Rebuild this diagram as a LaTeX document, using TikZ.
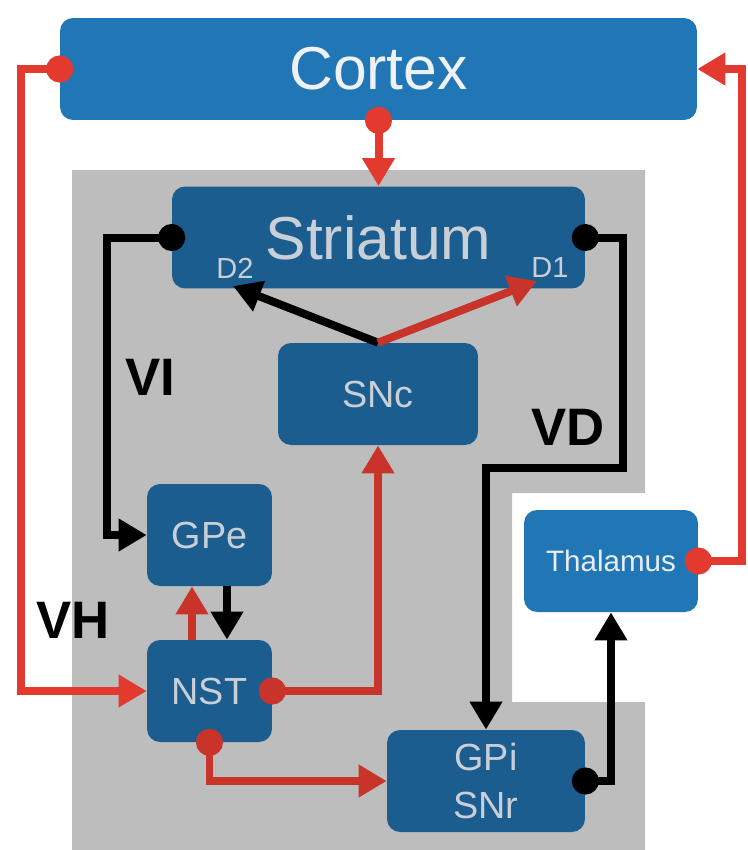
\documentclass[tikz,border=0pt]{standalone}
\usepackage{fontspec}
\setmainfont{Liberation Sans}
\usetikzlibrary{arrows.meta}

\definecolor{ctxblue}{HTML}{2176B5}
\definecolor{nucblue}{HTML}{1B5D8F}
\definecolor{nucgray}{HTML}{BDBDBD}
\definecolor{exred}{HTML}{E23A2E}
\definecolor{inred}{HTML}{C8332A}
\definecolor{nuctext}{HTML}{C9CFD6}
\definecolor{ctxtext}{HTML}{EEF2F5}

\begin{document}
\begin{tikzpicture}[x=0.02cm, y=-0.02cm,
nucleus/.style={fill=nucblue, rounded corners=0.26cm, text=nuctext, minimum height=2.04cm, inner sep=0pt, font=\fontsize{21.5}{27}\selectfont},
outer/.style={nucleus, fill=ctxblue},
big/.style={font=\fontsize{34.5}{34.5}\selectfont},
receptor/.style={text=nuctext, font=\fontsize{16.5}{16.5}\selectfont},
pathlabel/.style={font=\fontsize{30}{30}\selectfont\bfseries},
link/.style={line width=0.16cm, -{Triangle[length=0.56cm,width=0.62cm]}},
dotlink/.style={line width=0.16cm, arrows={Circle[length=0.54cm]-Triangle[length=0.56cm,width=0.62cm]}, shorten <=-0.27cm} ]

\useasboundingbox (0,0) rectangle (748,850);

% basal ganglia area
\fill[nucgray] (72,170) -- (645,170) -- (645,493) -- (512,493) -- (512,702) -- (645,702) -- (645,850) -- (72,850) -- cycle;

\node[outer, big, text=ctxtext, minimum width=12.74cm] (cortex) at (378.5,69) {Cortex};

\node[nucleus, big, minimum width=8.26cm] (striatum) at (378.5,237.5) {Striatum};

\node[receptor] (d2) at (235,268) {D2};

\node[receptor] (d1) at (550,268) {D1};

\node[nucleus, minimum width=4cm] (snc) at (378,394) {SNc};

\node[nucleus, minimum width=2.5cm] (gpe) at (209.5,535) {GPe};

\node[nucleus, minimum width=2.5cm] (nst) at (209.5,691) {NST};

\node[nucleus, minimum width=3.96cm, align=center] (gpi) at (486,781) {GPi\\SNr};

\node[outer, minimum width=3.48cm, text=ctxtext!85!nuctext, font=\fontsize{16.8}{16.8}\selectfont] (thalamus) at (611,561) {Thalamus};

\coordinate (d2tip) at (233,286);
\coordinate (d1tip) at (537,281);
\coordinate (vdbend) at (623,468);

% cortical inputs
\draw[dotlink, exred] (cortex.west) -- ++(-39,0) |- (nst.west);

\draw[dotlink, exred] (cortex.south) -- (striatum.north);

% indirect and direct pathways
\draw[dotlink] (striatum.west) -- ++(-65,0) |- (gpe.west);

\draw[dotlink] (striatum.east) -| (vdbend) -| (gpi.north);

% dopamine
\draw[link] (snc.north) -- (d2tip);

\draw[link, inred] (snc.north) -- (d1tip);

\draw[link, inred] ([xshift=-0.35cm]nst.north) -- ([xshift=-0.35cm]gpe.south);

\draw[link] ([xshift=0.35cm]gpe.south) -- ([xshift=0.35cm]nst.north);

\draw[dotlink, inred] (nst.east) -| (snc.south);

\draw[dotlink, inred] (nst.south) |- (gpi.west);

% output loop
\draw[dotlink] (gpi.east) -| (thalamus.south);

\draw[dotlink, exred] (thalamus.east) -- ++(44,0) |- (cortex.east);

\node[pathlabel] (vi) at (150,377) {VI};

\node[pathlabel] (vd) at (568,427) {VD};

\node[pathlabel] (vh) at (73,620) {VH};

\end{tikzpicture}
\end{document}
